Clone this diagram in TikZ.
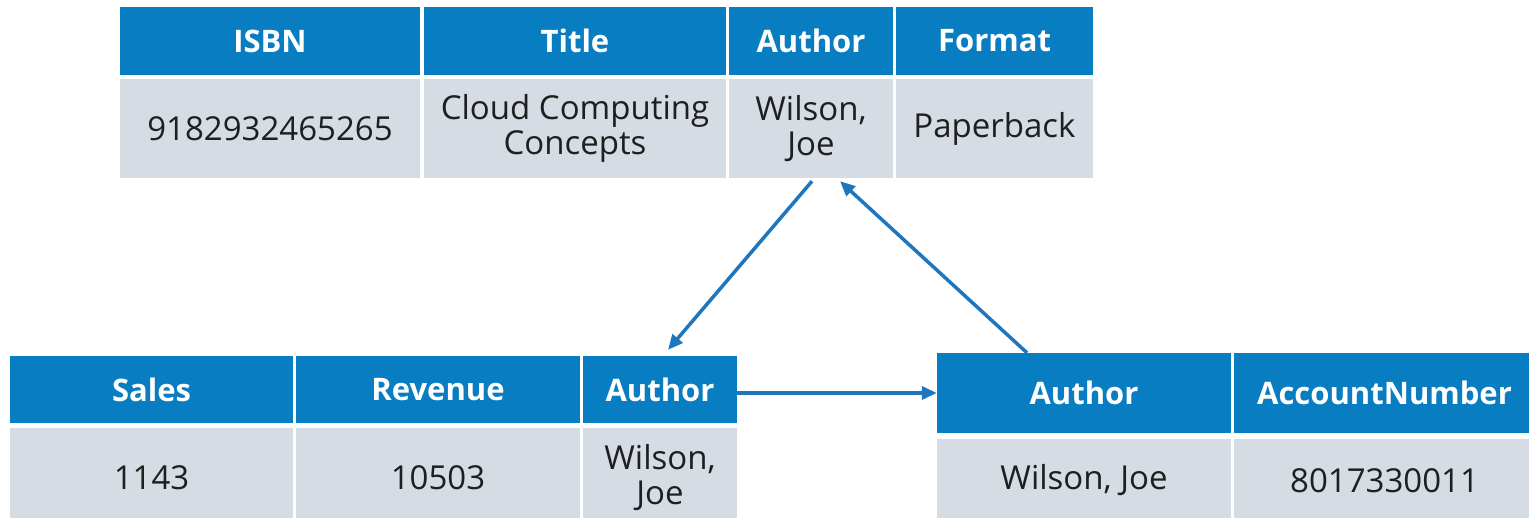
\documentclass[tikz,border=0pt]{standalone}
\usepackage{fontspec}
\setmainfont{Open Sans}
\usetikzlibrary{arrows.meta}

\definecolor{hdrblue}{RGB}{8,125,193}
\definecolor{cellgrey}{RGB}{213,220,228}
\definecolor{linkblue}{RGB}{32,118,189}

\begin{document}
\begin{tikzpicture}[x=1pt, y=-1pt,
    hdr/.style={fill=hdrblue, text=white, font=\fontsize{31}{34}\selectfont\bfseries},
    dat/.style={fill=cellgrey, text=black!88, align=center, font=\fontsize{33}{35}\selectfont},
    link/.style={draw=linkblue, line width=3.5pt, -{Triangle[length=15pt,width=13pt]}}]

  % one table cell, filled box from (x1,y1) to (x2,y2)
  \newcommand\tabcell[7]{%
    \node[#6, inner sep=0pt, minimum width={(#4-#2)*1pt}, minimum height={(#5-#3)*1pt}]
      (#1) at ({(#2+#4)/2},{(#3+#5)/2}) {#7};}

  \useasboundingbox[fill=white] (0,0) rectangle (1529,518);
  \clip (0,0) rectangle (1529,518);

  % books
  \tabcell{isbnH}{120}{7}{420}{75}{hdr}{ISBN}
  \tabcell{titleH}{424}{7}{726}{75}{hdr}{Title}
  \tabcell{authH}{729}{7}{893}{75}{hdr}{Author}
  \tabcell{fmtH}{896}{7}{1093}{75}{hdr}{Format}
  \tabcell{isbnD}{120}{79}{420}{178}{dat}{9182932465265}
  \tabcell{titleD}{424}{79}{726}{178}{dat}{Cloud Computing\\Concepts}
  \tabcell{authD}{729}{79}{893}{178}{dat}{Wilson,\\Joe}
  \tabcell{fmtD}{896}{79}{1093}{178}{dat}{Paperback}

  % sales
  \tabcell{salesH}{10}{356}{293}{423}{hdr}{Sales}
  \tabcell{revH}{296}{356}{580}{423}{hdr}{Revenue}
  \tabcell{sauthH}{583}{356}{737}{423}{hdr}{Author}
  \tabcell{salesD}{10}{428}{293}{528}{dat}{1143}
  \tabcell{revD}{296}{428}{580}{528}{dat}{10503}
  \tabcell{sauthD}{583}{428}{737}{528}{dat}{Wilson,\\Joe}

  % accounts
  \tabcell{aauthH}{937}{353}{1231}{433}{hdr}{Author}
  \tabcell{acctH}{1234}{353}{1535}{433}{hdr}{AccountNumber}
  \tabcell{aauthD}{937}{439}{1231}{522}{dat}{Wilson, Joe}
  \tabcell{acctD}{1234}{439}{1535}{522}{dat}{8017330011}

  \draw[link] ([xshift=1pt,yshift=-3pt]authD.south) -- ([xshift=8pt,yshift=6pt]sauthH.north);
  \draw[link] ([xshift=-57pt]aauthH.north) -- ([xshift=29pt,yshift=-3pt]authD.south);
  \draw[link] (sauthH.east |- aauthH.west) -- (aauthH.west);

\end{tikzpicture}
\end{document}
